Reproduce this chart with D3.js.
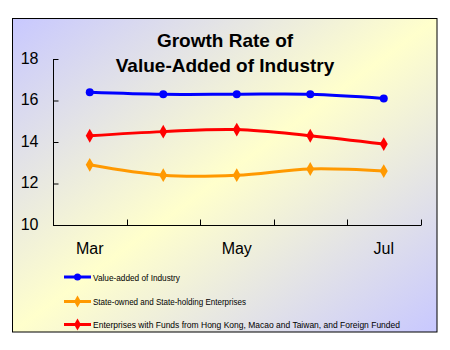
<!DOCTYPE html>
<html><head><meta charset="utf-8">
<script src="https://cdn.jsdelivr.net/npm/d3@7"></script>
<style>html,body{margin:0;padding:0;background:#fff;}</style>
</head><body>
<svg id="c" width="450" height="350"></svg>
<script>
const months = ["Mar","Apr","May","Jun","Jul"];
const monthLabels = ["Mar","","May","","Jul"];
const yTicks = [10,12,14,16,18];
const seriesNames = ["Value-added of Industry","State-owned and State-holding Enterprises","Enterprises with Funds from Hong Kong, Macao and Taiwan, and Foreign Funded"];
const industry = [16.4,16.3,16.3,16.3,16.1];
const stateOwned = [12.9,12.4,12.4,12.7,12.6];
const foreignFunded = [14.3,14.5,14.6,14.3,13.9];
const titleLines = ["Growth Rate of","Value-Added of Industry"];

const series = [
  {name: seriesNames[0], values: industry, color: "#0000ff", marker: "circle"},
  {name: seriesNames[1], values: stateOwned, color: "#ff9900", marker: "diamond"},
  {name: seriesNames[2], values: foreignFunded, color: "#ff0000", marker: "diamond"}
];

const svg = d3.select("#c");
const defs = svg.append("defs");
const g = defs.append("linearGradient").attr("id","bg").attr("x1",0).attr("y1",0).attr("x2",1).attr("y2",1);
g.append("stop").attr("offset",0).attr("stop-color","#c8c8ff");
g.append("stop").attr("offset",0.5).attr("stop-color","#ffffcc");
g.append("stop").attr("offset",1).attr("stop-color","#c8c8ff");

svg.append("rect").attr("x",12.5).attr("y",18.5).attr("width",424.5).attr("height",313.5)
  .attr("fill","url(#bg)").attr("stroke","#000").attr("stroke-width",1);

const x = d3.scaleBand().domain(months).range([53,420.5]);
const y = d3.scaleLinear().domain([10,18]).range([225,59]);

// title
svg.append("g").selectAll("text").data(titleLines).join("text")
  .attr("x",225).attr("y",(d,i)=>47+i*25).attr("text-anchor","middle")
  .attr("font-family","Liberation Sans, Arial, sans-serif").attr("font-weight","bold")
  .attr("font-size",19).attr("fill","#000").text(d=>d);

// y axis
const yAxis = d3.axisLeft(y).tickValues(yTicks).tickSize(-5).tickPadding(15).tickFormat(d3.format("d"));
const ya = svg.append("g").attr("transform","translate(53.5,0)").call(yAxis);
ya.select(".domain").attr("d","M-0.5,59.5H4.5M0,59V225.5");
ya.selectAll(".tick line").attr("stroke","#000");
ya.selectAll(".tick text").attr("font-family","Liberation Sans, Arial, sans-serif").attr("font-size",16).attr("fill","#000").attr("dy","0.25em");
ya.select(".domain").attr("stroke","#000");

// x axis
const xa = svg.append("g").attr("transform","translate(0,225.5)");
xa.append("line").attr("x1",53).attr("x2",421).attr("y1",0).attr("y2",0).attr("stroke","#000");
const bounds = months.map(m=>x(m)).concat([x.range()[1]]);
xa.selectAll("line.tk").data(bounds.slice(1)).join("line").attr("class","tk")
  .attr("x1",d=>Math.round(d)+0.5).attr("x2",d=>Math.round(d)+0.5).attr("y1",0).attr("y2",-6).attr("stroke","#000");
xa.selectAll("text").data(months).join("text")
  .attr("x",d=>x(d)+x.bandwidth()/2).attr("y",28).attr("text-anchor","middle")
  .attr("font-family","Liberation Sans, Arial, sans-serif").attr("font-size",16).attr("fill","#000")
  .text((d,i)=>monthLabels[i]);

const line = d3.line().x((d,i)=>x(months[i])+x.bandwidth()/2).y(d=>y(d)).curve(d3.curveCatmullRom.alpha(0.5));
const diamond = d3.symbol().type(d3.symbolDiamond).size(55);

series.forEach(s=>{
  svg.append("path").attr("d",line(s.values)).attr("fill","none").attr("stroke",s.color).attr("stroke-width",3);
  const mk = svg.append("g");
  s.values.forEach((v,i)=>{
    const cx = x(months[i])+x.bandwidth()/2, cy = y(v);
    if (s.marker==="circle") mk.append("circle").attr("cx",cx).attr("cy",cy).attr("r",4).attr("fill",s.color);
    else mk.append("path").attr("d",diamond()).attr("transform",`translate(${cx},${cy})`).attr("fill",s.color);
  });
});

// legend
const legendY = [277, 301.5, 324.5];
const legendW = [87, 153, 307];
series.forEach((s,i)=>{
  const lg = svg.append("g").attr("transform",`translate(0,${legendY[i]})`);
  lg.append("line").attr("x1",64).attr("x2",91).attr("y1",0).attr("y2",0).attr("stroke",s.color).attr("stroke-width",3);
  if (s.marker==="circle") lg.append("circle").attr("cx",77.5).attr("cy",0).attr("r",3.5).attr("fill",s.color);
  else lg.append("path").attr("d",d3.symbol().type(d3.symbolDiamond).size(40)()).attr("transform","translate(77.5,0)").attr("fill",s.color);
  lg.append("text").attr("x",93).attr("y",3.5).attr("font-family","Liberation Sans, Arial, sans-serif")
    .attr("font-size",9).attr("fill","#000").attr("textLength",legendW[i]).attr("lengthAdjust","spacingAndGlyphs").text(s.name);
});
</script>
</body></html>
